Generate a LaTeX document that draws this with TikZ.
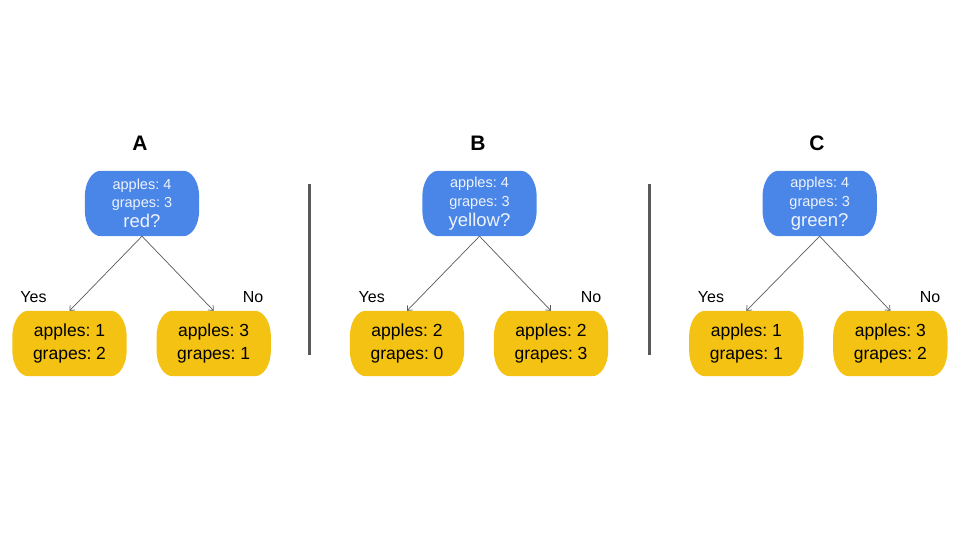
\documentclass[tikz,border=0pt]{standalone}
\usepackage{fontspec}
\setmainfont{Liberation Sans}
\frenchspacing
\usetikzlibrary{backgrounds,arrows.meta}
\definecolor{nodeblue}{HTML}{4A86E8}
\definecolor{nodeyellow}{HTML}{F3C212}
\definecolor{linegray}{HTML}{595959}
\definecolor{paletext}{HTML}{EEF3FD}
\newcommand\pillbg[2]{%
  \begin{scope}[on background layer]
    \fill[#2] ([xshift=16pt]#1.north west) -- ([xshift=-16pt]#1.north east)
      arc[start angle=90,end angle=0,x radius=16pt,y radius=26pt]
      -- ([yshift=26pt]#1.south east)
      arc[start angle=0,end angle=-90,x radius=16pt,y radius=26pt]
      -- ([xshift=16pt]#1.south west)
      arc[start angle=270,end angle=180,x radius=16pt,y radius=26pt]
      -- ([yshift=-26pt]#1.north west)
      arc[start angle=180,end angle=90,x radius=16pt,y radius=26pt] -- cycle;
  \end{scope}}
\tikzset{
  x=1pt,y=1pt,
  pillbox/.style={minimum width=114pt,minimum height=65pt,inner sep=0pt,align=center},
  bluebox/.style={pillbox,text=paletext,font=\fontsize{14.5}{18.5}\selectfont},
  yellowbox/.style={pillbox,text=black,font=\fontsize{17.5}{23}\selectfont},
  title/.style={font=\fontsize{21}{24}\selectfont\bfseries},
  branch/.style={font=\fontsize{16}{18}\selectfont},
  conn/.style={draw=linegray,line width=0.7pt,-{Straight Barb[length=4pt,width=7pt]}},
  divider/.style={draw=linegray,line width=3pt}
}
\newcommand\bluetext[1]{apples: 4\\grapes: 3\\[1.5pt]{\fontsize{18.5}{20}\selectfont #1}}
\begin{document}
\begin{tikzpicture}
\useasboundingbox (0,0) rectangle (960,540);
% Tree A
\node[title] (tA) at (140,397) {A};
\node[bluebox] (bA) at (142,336.5) {\bluetext{red?}};
\node[yellowbox] (lA) at (69.5,196.5) {apples: 1\\grapes: 2};
\node[yellowbox] (rA) at (213.7,196.5) {apples: 3\\grapes: 1};
\pillbg{bA}{nodeblue}\pillbg{lA}{nodeyellow}\pillbg{rA}{nodeyellow}
\node[branch] (yA) at (33.5,243) {Yes};
\node[branch] (nA) at (253,243) {No};
\draw[conn] (bA.south) -- (lA.north);
\draw[conn] (bA.south) -- (rA.north);
% divider 1
\coordinate (d1t) at (309.5,356);
\coordinate (d1b) at (309.5,185);
\draw[divider] (d1t) -- (d1b);
% Tree B
\node[title] (tB) at (478,397) {B};
\node[bluebox] (bB) at (479.5,336.5) {\bluetext{yellow?}};
\node[yellowbox] (lB) at (407,196.5) {apples: 2\\grapes: 0};
\node[yellowbox] (rB) at (551,196.5) {apples: 2\\grapes: 3};
\pillbg{bB}{nodeblue}\pillbg{lB}{nodeyellow}\pillbg{rB}{nodeyellow}
\node[branch] (yB) at (371.7,243) {Yes};
\node[branch] (nB) at (591,243) {No};
\draw[conn] (bB.south) -- (lB.north);
\draw[conn] (bB.south) -- (rB.north);
% divider 2
\coordinate (d2t) at (649.5,356);
\coordinate (d2b) at (649.5,185);
\draw[divider] (d2t) -- (d2b);
% Tree C
\node[title] (tC) at (817,397) {C};
\node[bluebox] (bC) at (819.7,336.5) {\bluetext{green?}};
\node[yellowbox] (lC) at (746.3,196.5) {apples: 1\\grapes: 1};
\node[yellowbox] (rC) at (890.3,196.5) {apples: 3\\grapes: 2};
\pillbg{bC}{nodeblue}\pillbg{lC}{nodeyellow}\pillbg{rC}{nodeyellow}
\node[branch] (yC) at (711,243) {Yes};
\node[branch] (nC) at (930,243) {No};
\draw[conn] (bC.south) -- (lC.north);
\draw[conn] (bC.south) -- (rC.north);
\end{tikzpicture}
\end{document}
